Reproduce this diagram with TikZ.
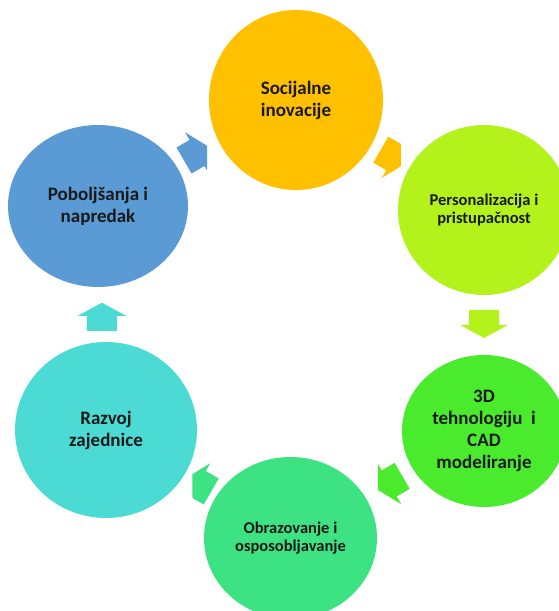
\documentclass[tikz,border=0pt]{standalone}
\usepackage{fontspec}
\setmainfont{Carlito}
\usetikzlibrary{shapes.geometric,calc}

\definecolor{socorange}{HTML}{FFC000}
\definecolor{perslime}{HTML}{B4F21C}
\definecolor{techgreen}{HTML}{4AEB2C}
\definecolor{obrmint}{HTML}{3DE383}
\definecolor{razvcyan}{HTML}{4CDBD4}
\definecolor{pobblue}{HTML}{5B9BD5}

\tikzset{
  cyclearrow/.pic={
    \fill (-15,-15) -- (0,-15) -- (0,-24) -- (13,0) -- (0,24) -- (0,15) -- (-15,15) -- cycle;
  }
}

\begin{document}
\begin{tikzpicture}[x=1pt,y=1pt,
    stage/.style={ellipse,inner sep=0pt,align=center,text=black!90},
    bigtext/.style={font=\fontsize{19}{22}\selectfont\bfseries},
    smalltext/.style={font=\fontsize{16.5}{18.5}\selectfont\bfseries}]
  \useasboundingbox (0,0) rectangle (559,611);
  \clip (0,0) rectangle (559,611);

  % the six stages of the cycle
  \node[stage,bigtext,fill=socorange,minimum width=174,minimum height=180] (soc) at (296,511) {Socijalne\\inovacije};
  \node[stage,smalltext,fill=perslime,minimum width=172,minimum height=170] (pers) at (484,401) {Personalizacija i\\pristupačnost};
  \node[stage,bigtext,fill=techgreen,minimum width=164,minimum height=152] (tech) at (484,180) {3D\\tehnologiju~ i\\CAD\\modeliranje};
  \node[stage,smalltext,fill=obrmint,minimum width=173,minimum height=162] (obr) at (290.5,73) {Obrazovanje i\\osposobljavanje};
  \node[stage,bigtext,fill=razvcyan,minimum width=182,minimum height=176] (razv) at (106,181) {Razvoj\\zajednice};
  \node[stage,bigtext,fill=pobblue,minimum width=180,minimum height=162] (pob) at (98,405) {Poboljšanja i\\napredak};

  % where the arrows sit
  \coordinate (a1) at ($(pob)!0.5!(soc)$);
  \coordinate (a2) at ($(soc)!0.52!(pers)$);
  \coordinate (a3) at ($(pers)!0.52!(tech)$);
  \coordinate (a4) at ($(tech)!0.49!(obr)$);
  \coordinate (a5) at ($(obr)!0.5!(razv)$);
  \coordinate (a6) at ($(razv)!0.51!(pob)$);

  % arrows, the slanted ones have their tips cut off
  \begin{scope}
    \clip ($(a1)+(-40,-40)$) rectangle ($(a1)+(10,40)$);
    \pic[pobblue,rotate=30] at (a1) {cyclearrow};
  \end{scope}
  \begin{scope}
    \clip ($(a2)+(-40,-40)$) rectangle ($(a2)+(7,40)$);
    \pic[socorange,rotate=-30] at (a2) {cyclearrow};
  \end{scope}
  \pic[perslime,rotate=-90] at (a3) {cyclearrow};
  \begin{scope}
    \clip ($(a4)+(-11,-40)$) rectangle ($(a4)+(40,40)$);
    \pic[techgreen,rotate=-150] at (a4) {cyclearrow};
  \end{scope}
  \begin{scope}
    \clip ($(a5)+(-6,-40)$) rectangle ($(a5)+(40,40)$);
    \pic[obrmint,rotate=150] at (a5) {cyclearrow};
  \end{scope}
  \pic[razvcyan,rotate=90] at (a6) {cyclearrow};
\end{tikzpicture}
\end{document}
